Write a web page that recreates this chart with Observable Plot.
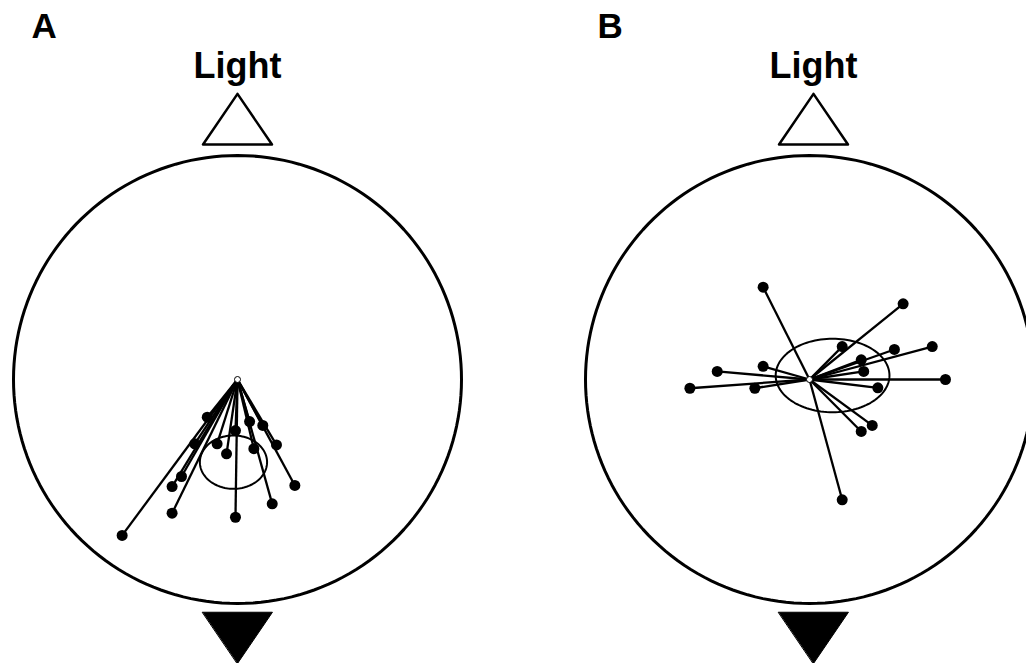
<!DOCTYPE html>
<html>
<head>
<meta charset="utf-8">
<script src="https://cdn.jsdelivr.net/npm/d3@7"></script>
<script src="https://cdn.jsdelivr.net/npm/@observablehq/plot@0.6"></script>
<style>
  html, body { margin: 0; padding: 0; background: #fff; overflow: hidden; width: 1026px; height: 663px; }
  #figure { display: flex; width: 1144px; }
  #figure svg { display: block; flex: none; background: #fff; color: #000; }
</style>
</head>
<body>
<div id="figure"></div>
<script>
// Track end points in arena units (arena radius = 1, x to the right, y toward the light).
const panelA_x = [-0.515, -0.135, -0.191, -0.250, -0.292, -0.292, -0.091, -0.049, -0.009, -0.009, 0.054, 0.073, 0.113, 0.174, 0.155, 0.256];
const panelA_y = [-0.696, -0.168, -0.287, -0.433, -0.478, -0.597, -0.287, -0.332, -0.228, -0.615, -0.188, -0.309, -0.205, -0.292, -0.555, -0.473];
// Confidence ellipse: centre x, centre y, radius x, radius y
const panelA_ellipse = [-0.018, -0.369, 0.150, 0.119];

const panelB_x = [-0.207, 0.418, 0.548, 0.379, 0.146, 0.231, 0.242, 0.607, 0.305, 0.280, 0.231, 0.146, -0.207, -0.412, -0.244, -0.534];
const panelB_y = [0.412, 0.338, 0.147, 0.134, 0.147, 0.088, 0.036, 0.000, -0.037, -0.205, -0.232, -0.537, 0.059, 0.036, -0.039, -0.039];
const panelB_ellipse = [0.103, 0.018, 0.254, 0.164];

const panelLabels = ["A", "B"];
const cueLabel = "Light";

// Layout: each panel is 572 px wide; the arena centre sits at (237, 379), 224 px per unit.
const W = 572, H = 663, CX = 237, CY = 379, R = 224;
const FONT = "'Liberation Sans', Arial, Helvetica, sans-serif";

function drawPanel(label, xs, ys, ellipse, labelDx, cueDx) {
  const tracks = xs.map((x, i) => ({x, y: ys[i]}));
  const rad = d => d * Math.PI / 180;
  const ring = d3.range(0, 361, 2).map(a => ({x: Math.cos(rad(a)), y: Math.sin(rad(a))}));
  const [ex, ey, erx, ery] = ellipse;
  const oval = d3.range(0, 361, 3).map(a => ({x: ex + erx * Math.cos(rad(a)), y: ey + ery * Math.sin(rad(a))}));
  // Light cue (open triangle) above the arena, dark side (filled triangle) below it.
  const lightCue = [{x: 0, y: 1.275}, {x: -0.154, y: 1.049}, {x: 0.154, y: 1.049}];
  const darkCue = [{x: -0.156, y: -1.039}, {x: 0.156, y: -1.039}, {x: 0, y: -1.268}];

  return Plot.plot({
    width: W,
    height: H,
    margin: 0,
    x: {domain: [-CX / R, (W - CX) / R], axis: null},
    y: {domain: [-(H - CY) / R, CY / R], axis: null},
    style: {fontFamily: FONT, color: "#000", background: "#fff"},
    marks: [
      Plot.line(ring, {x: "x", y: "y", curve: "linear-closed", stroke: "#000", strokeWidth: 3}),
      Plot.line(lightCue, {x: "x", y: "y", curve: "linear-closed", stroke: "#000", strokeWidth: 2.5, fill: "#fff", dx: cueDx}),
      Plot.line(darkCue, {x: "x", y: "y", curve: "linear-closed", stroke: "#000", strokeWidth: 1, fill: "#000", dx: cueDx}),
      Plot.text([cueLabel], {x: 0, y: 1.345, text: d => d, lineAnchor: "bottom", textAnchor: "middle",
        fontSize: 36, fontWeight: "bold", fill: "#000", dx: cueDx}),
      Plot.text([label], {frameAnchor: "top-left", text: d => d, dx: labelDx, dy: 37, lineAnchor: "bottom",
        textAnchor: "start", fontSize: 35, fontWeight: "bold", fill: "#000"}),
      Plot.line(oval, {x: "x", y: "y", curve: "linear-closed", stroke: "#000", strokeWidth: 2}),
      Plot.link(tracks, {x1: 0, y1: 0, x2: "x", y2: "y", stroke: "#000", strokeWidth: 2.3}),
      Plot.dot(tracks, {x: "x", y: "y", r: 5.5, fill: "#000", stroke: "none"}),
      Plot.dot([{x: 0, y: 0}], {x: "x", y: "y", r: 3, fill: "#fff", stroke: "#000", strokeWidth: 1})
    ]
  });
}

const fig = document.getElementById("figure");
fig.appendChild(drawPanel(panelLabels[0], panelA_x, panelA_y, panelA_ellipse, 31, 0));
fig.appendChild(drawPanel(panelLabels[1], panelB_x, panelB_y, panelB_ellipse, 25, 4));
</script>
</body>
</html>
